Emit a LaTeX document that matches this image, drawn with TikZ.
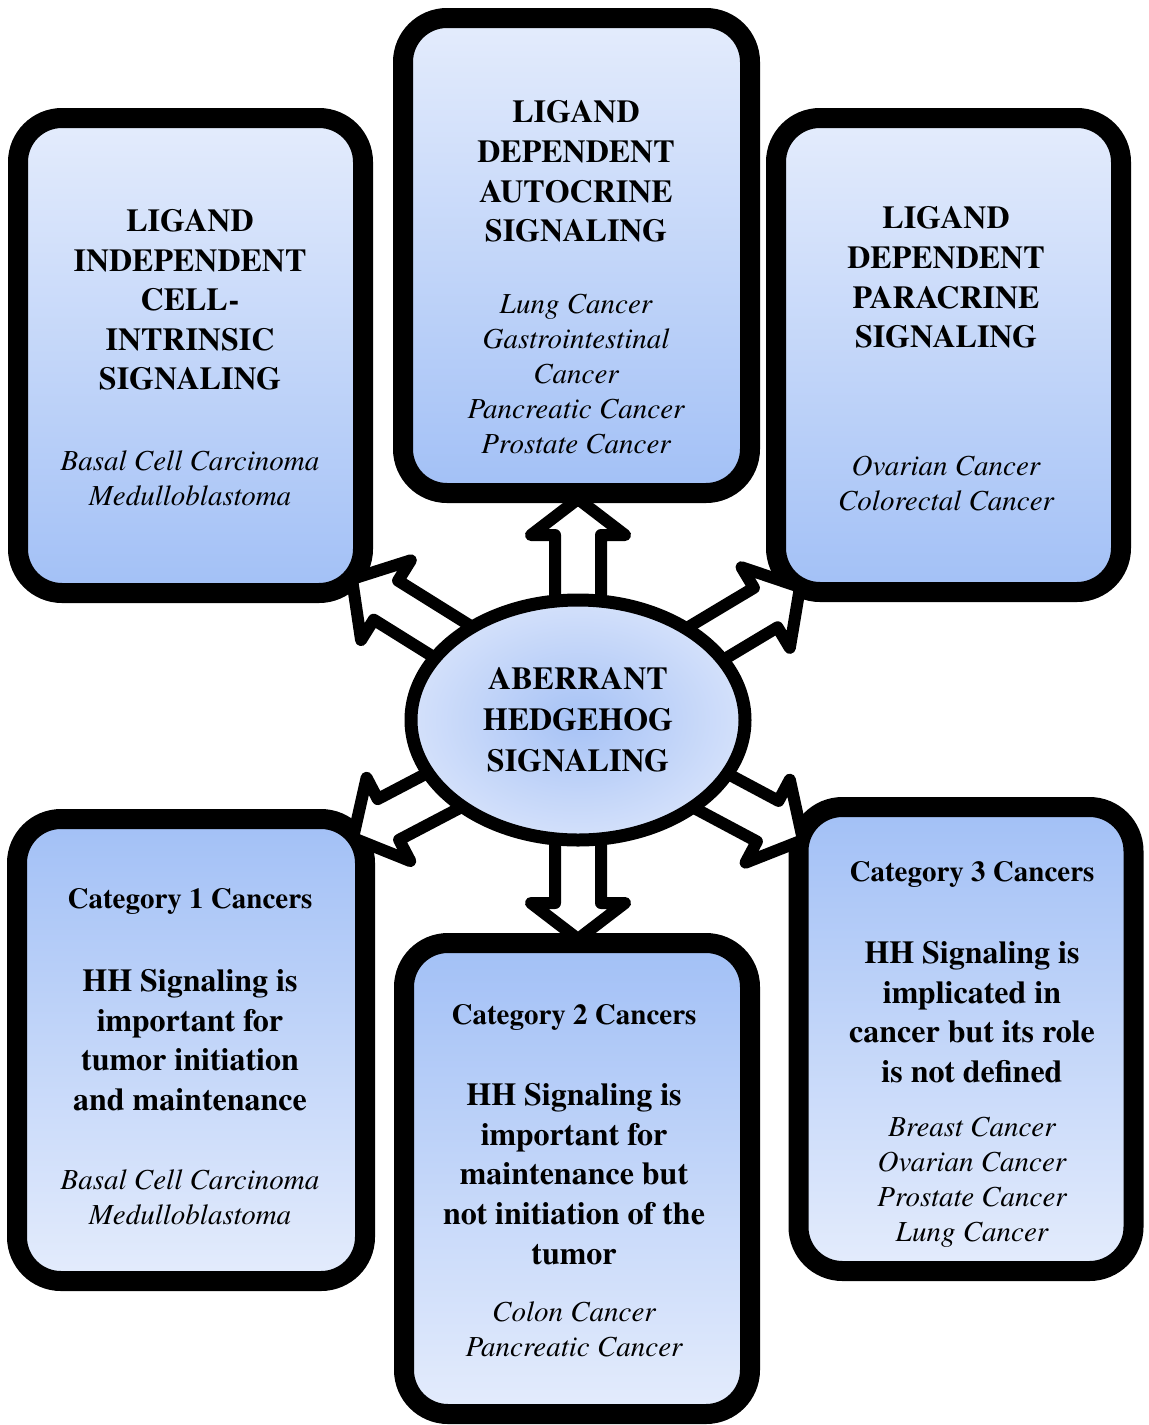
\documentclass[tikz,border=0pt]{standalone}
\usepackage{fontspec}
\setmainfont{texgyretermes}[Extension=.otf,UprightFont=*-regular,BoldFont=*-bold,ItalicFont=*-italic,BoldItalicFont=*-bolditalic]
\usetikzlibrary{shapes.geometric,calc}
\definecolor{boxlight}{RGB}{228,236,252}
\definecolor{boxdark}{RGB}{162,192,246}
\definecolor{elldark}{RGB}{166,194,245}
\definecolor{ellmid}{RGB}{196,214,249}
\definecolor{elllight}{RGB}{230,237,252}
\pgfdeclareradialshading{hhshade}{\pgfpoint{0bp}{0bp}}{color(0bp)=(elldark); color(16bp)=(ellmid); color(35bp)=(elllight); color(50bp)=(elllight)}
\newcommand\arrsw{11.5pt}
\newcommand\arrhw{23.5pt}
\newcommand\blockarrow[4]{%
  \coordinate (#1b) at ($(#3)!#4!(#2)$);
  \draw[blockarr] ($(#2)!\arrsw!90:(#3)$) -- ($(#1b)!\arrsw!-90:(#2)$) -- ($(#1b)!\arrhw!-90:(#2)$) -- (#3) -- ($(#1b)!\arrhw!90:(#2)$) -- ($(#1b)!\arrsw!90:(#2)$) -- ($(#2)!\arrsw!-90:(#3)$) -- cycle;}
\begin{document}
\begin{tikzpicture}[x=0.5pt,y=-0.5pt,
  box/.style={draw=black,line width=10pt,rounded corners=22pt,inner sep=0pt},
  topbox/.style={box,top color=boxlight,bottom color=boxdark},
  botbox/.style={box,top color=boxdark,bottom color=boxlight},
  ttl/.style={font=\fontsize{16pt}{19.8pt}\selectfont\bfseries,align=center,inner sep=0pt},
  lst/.style={font=\fontsize{14.5pt}{17.5pt}\selectfont\itshape,align=center,inner sep=0pt},
  cat/.style={font=\fontsize{14.5pt}{17.5pt}\selectfont\bfseries,inner sep=0pt,anchor=base},
  blockarr/.style={draw=black,fill=white,line width=6pt,line join=round},
  hhnode/.style={ellipse,draw=black,line width=6.5pt,inner sep=0pt,minimum width=167pt,minimum height=120pt,shading=hhshade,font=\fontsize{16pt}{20.5pt}\selectfont\bfseries,align=center}
]
\path[use as bounding box,fill=white] (0,0) rectangle (1148,1425);

% boxes
\node[topbox,minimum width=172.5pt,minimum height=237.5pt] (A) at (190.5,355.5) {};
\node[topbox,minimum width=173.5pt,minimum height=237.5pt] (B) at (576.5,255.5) {};
\node[topbox,minimum width=172.5pt,minimum height=237pt] (C) at (948.5,355) {};
\node[botbox,minimum width=174pt,minimum height=231pt] (D) at (191,1050) {};
\node[botbox,minimum width=173pt,minimum height=235.5pt] (E) at (577,1178.5) {};
\node[botbox,minimum width=167.5pt,minimum height=232pt] (F) at (966,1039) {};

% box texts
\node[ttl] (At) at (190,300) {LIGAND\\INDEPENDENT\\CELL-\\INTRINSIC\\SIGNALING};
\node[lst] (Al) at (190,478) {Basal Cell Carcinoma\\Medulloblastoma};
\node[ttl] (Bt) at (576,171.5) {LIGAND\\DEPENDENT\\AUTOCRINE\\SIGNALING};
\node[lst] (Bl) at (576,374.5) {Lung Cancer\\Gastrointestinal\\Cancer\\Pancreatic Cancer\\Prostate Cancer};
\node[ttl] (Ct) at (946,277.5) {LIGAND\\DEPENDENT\\PARACRINE\\SIGNALING};
\node[lst] (Cl) at (946,483.5) {Ovarian Cancer\\Colorectal Cancer};
\node[cat] (Dc) at (190,908.6) {Category 1 Cancers};
\node[ttl] (Dt) at (190,1040) {HH Signaling is\\important for\\tumor initiation\\and maintenance};
\node[lst] (Dl) at (190,1197.5) {Basal Cell Carcinoma\\Medulloblastoma};
\node[cat] (Ec) at (574,1024.6) {Category 2 Cancers};
\node[ttl] (Et) at (574,1174) {HH Signaling is\\important for\\maintenance but\\not initiation of the\\tumor};
\node[lst] (El) at (574,1329) {Colon Cancer\\Pancreatic Cancer};
\node[cat] (Fc) at (972,881.6) {Category 3 Cancers};
\node[ttl] (Ft) at (972,1012) {HH Signaling is\\implicated in\\cancer but its role\\is not defined};
\node[lst] (Fl) at (972,1182) {Breast Cancer\\Ovarian Cancer\\Prostate Cancer\\Lung Cancer};

% arrows
\coordinate (hhc) at (578,720);
\coordinate (tB) at (578,499);
\coordinate (tE) at (578,939);
\coordinate (tA) at (352,579);
\coordinate (tC) at (800,587);
\coordinate (tD) at (353,838);
\coordinate (tF) at (803,840);
\blockarrow{aB}{hhc}{tB}{18pt}
\blockarrow{aE}{hhc}{tE}{18pt}
\blockarrow{aA}{hhc}{tA}{20pt}
\blockarrow{aC}{hhc}{tC}{20pt}
\blockarrow{aD}{hhc}{tD}{20pt}
\blockarrow{aF}{hhc}{tF}{20pt}

% central ellipse
\node[hhnode] (hh) at (hhc) {ABERRANT\\HEDGEHOG\\SIGNALING};
\end{tikzpicture}
\end{document}
